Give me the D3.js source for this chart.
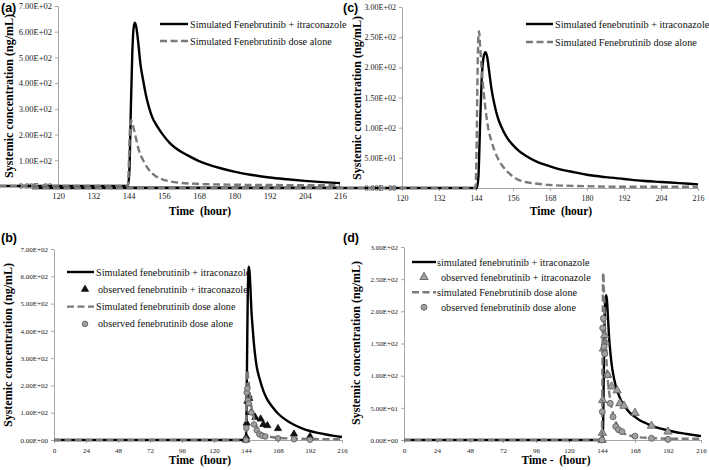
<!DOCTYPE html>
<html><head><meta charset="utf-8">
<script src="https://cdn.jsdelivr.net/npm/d3@7"></script>
<style>
html,body{margin:0;padding:0;background:#fff;}
svg{display:block;}
svg text{font-family:"Liberation Serif","DejaVu Serif","Times New Roman",serif;}
svg text.plabel{font-family:"Liberation Sans","DejaVu Sans",Arial,sans-serif;}
</style></head>
<body>
<svg id="chart" width="709" height="470"></svg>
<script>
// ---------------- DATA ----------------
const xTicksZoom = [120,132,144,156,168,180,192,204,216];
const xTicksFull = [0,24,48,72,96,120,144,168,192,216];
const yTicks700 = [0,100,200,300,400,500,600,700];
const yLabels700 = ["0.00E+00","1.00E+02","2.00E+02","3.00E+02","4.00E+02","5.00E+02","6.00E+02","7.00E+02"];
const yTicks300 = [0,50,100,150,200,250,300];
const yLabels300 = ["0.00E+00","5.00E+01","1.00E+02","1.50E+02","2.00E+02","2.50E+02","3.00E+02"];

// simulation used in panels (a) and (b)  [hour, ng/mL]
const simItraAB = [[0,0],[143.8,0],[144.3,60],[144.8,300],[145.3,520],[145.8,620],[146.2,635],[146.7,615],[147.3,560],[148,480],[149,410],[150,350],[151,305],[152,270],[154,228],[156,195],[158,168],[160,148],[164,120],[168,97],[172,80],[176,67],[180,56],[186,43],[192,33],[198,26],[204,20],[210,15],[216,11]];
const simAloneAB = [[0,0],[143.8,0],[144.1,80],[144.4,200],[144.8,255],[145.2,248],[145.8,222],[146.5,188],[147.5,140],[149,100],[150.5,70],[152,50],[154,33],[156,24],[158,18],[162,12],[168,8],[180,5],[192,4],[204,3],[216,3]];
// simulation used in panels (c) and (d)
const simItraCD = [[0,0],[144.3,0],[144.8,20],[145.3,100],[145.8,175],[146.4,215],[147,225],[147.6,218],[148.3,192],[149,165],[150,138],[151,118],[152,104],[154,84],[156,71],[158,61],[160,54],[164,43],[168,36],[172,30],[176,26],[180,22],[186,18],[192,15],[198,12],[204,10],[210,8],[216,6]];
const simAloneCD = [[0,0],[143.8,0],[144.2,70],[144.5,190],[144.8,255],[145,260],[145.3,238],[145.8,200],[146.5,158],[147.3,122],[148,98],[149,78],[150,62],[151,50],[152,41],[154,28],[156,19],[158,13],[160,10],[164,7],[168,5],[180,3],[192,2],[216,2]];
// observed data
const obsItra = [[144,0],[144.25,11],[144.5,62],[145,142],[146,163],[146.5,152],[148,101],[151,83],[155,77],[157,57],[160,53],[168,42],[180,22],[192,13]];
const obsAlone = [[144,0],[144.25,44],[144.5,174],[145,189],[145.5,145],[146,134],[148,101],[150,57],[152,36],[154,21],[156,16],[158.5,13],[168,6],[180,2.6],[192,1]];

// legend texts
const legendA = ["Simulated Fenebrutinib + itraconazole","Simulated Fenebrutinib dose alone"];
const legendC = ["Simulated fenebrutinib + itraconazole","Simulated Fenebrutinib dose alone"];
const legendB = ["Simulated fenebrutinib + itraconazole","observed fenebrutinib + itraconazole","Simulated fenebrutinib dose alone","observed fenebrutinib dose alone"];
const legendD = ["simulated fenebrutinib + itraconazole","observed fenebrutinib + itraconazole","simulated Fenebrutinib dose alone","observed fenebrutinib dose alone"];

// ---------------- DRAW ----------------
const svg = d3.select("#chart");
const AXIS_GRAY = "#a6a6a6";
const DASH_GRAY = "#7a7a7a";

function panel(cfg){
  const g = svg.append("g");
  const x = d3.scaleLinear().domain(cfg.xDomain).range(cfg.xRange);
  const y = d3.scaleLinear().domain(cfg.yDomain).range(cfg.yRange);

  const ay = g.append("g").attr("transform",`translate(${cfg.xRange[0]},0)`)
    .call(d3.axisLeft(y).tickValues(cfg.yTicks).tickFormat((d,i)=>cfg.yLabels[i]).tickSize(3).tickPadding(3).tickSizeOuter(0));
  const ax = g.append("g").attr("transform",`translate(0,${cfg.yRange[0]})`)
    .call(d3.axisBottom(x).tickValues(cfg.xTicks).tickFormat(d3.format("d")).tickSize(3).tickPadding(cfg.xPad).tickSizeOuter(0));
  [ax,ay].forEach(a=>{
    a.attr("font-family",null);
    a.selectAll("path,line").attr("stroke",AXIS_GRAY).attr("stroke-width",1);
    a.selectAll("text").attr("font-size",cfg.tickFont).attr("fill","#222");
  });

  const line = d3.line().x(d=>x(d[0])).y(d=>y(d[1])).curve(d3.curveMonotoneX);

  g.append("path").datum(cfg.solid).attr("d",line)
    .attr("fill","none").attr("stroke","#000").attr("stroke-width",2.4).attr("stroke-linejoin","round");

  const tri = d3.symbol().type(d3.symbolTriangle).size(cfg.triSize);
  if(cfg.obsItra){
    g.selectAll(".tri").data(cfg.obsItra).enter().append("path")
      .attr("d",tri).attr("transform",d=>`translate(${x(d[0])},${y(d[1])})`)
      .attr("fill",cfg.triFill).attr("stroke",cfg.triStroke).attr("stroke-width",0.8);
  }
  g.append("path").datum(cfg.dashed).attr("d",line)
    .attr("fill","none").attr("stroke",DASH_GRAY).attr("stroke-width",2.4).attr("stroke-dasharray","7,3.5");
  if(cfg.obsAlone){
    g.selectAll(".circ").data(cfg.obsAlone).enter().append("circle")
      .attr("cx",d=>x(d[0])).attr("cy",d=>y(d[1])).attr("r",cfg.circR)
      .attr("fill","#a0a0a0").attr("stroke","#555").attr("stroke-width",0.8);
  }

  g.append("text").attr("class","plabel").attr("x",cfg.label[1]).attr("y",cfg.label[2]).text(cfg.label[0])
    .attr("font-weight","bold").attr("font-size",12.5);

  g.append("text").attr("transform",`translate(${cfg.yTitle[0]},${cfg.yTitle[1]}) rotate(-90)`)
    .attr("text-anchor","middle").attr("font-weight","bold").attr("font-size",cfg.yTitle[2])
    .text("Systemic concentration (ng/mL)");
  g.append("text").attr("x",cfg.xTitle[1]).attr("y",cfg.xTitle[2]).attr("text-anchor","middle")
    .attr("font-weight","bold").attr("font-size",11.5)
    .style("white-space","pre").text(cfg.xTitle[0]);

  const L = cfg.legend;
  L.items.forEach((t,i)=>{
    const yy = L.y + i*L.dy;
    const kind = L.kinds[i];
    if(kind==="solid"){
      g.append("line").attr("x1",L.x0).attr("x2",L.x1).attr("y1",yy).attr("y2",yy)
        .attr("stroke","#000").attr("stroke-width",2.4);
    } else if(kind==="dashed"){
      g.append("line").attr("x1",L.x0).attr("x2",L.x1).attr("y1",yy).attr("y2",yy)
        .attr("stroke",DASH_GRAY).attr("stroke-width",2.4).attr("stroke-dasharray","7,3.5");
    } else if(kind==="tri"){
      g.append("path").attr("d",tri).attr("transform",`translate(${L.mx},${yy})`)
        .attr("fill",cfg.triFill).attr("stroke",cfg.triStroke).attr("stroke-width",0.8);
    } else {
      g.append("circle").attr("cx",L.mx).attr("cy",yy).attr("r",cfg.circR)
        .attr("fill","#a0a0a0").attr("stroke","#555").attr("stroke-width",0.8);
    }
    g.append("text").attr("x", kind==="solid"||kind==="dashed" ? L.tx : L.tx2).attr("y",yy).attr("dy","0.35em")
      .attr("font-size",10.2).attr("fill","#111").text(t);
  });
}

panel({xDomain:[120,216], xRange:[58,340], yDomain:[0,700], yRange:[186,6],
  xTicks:xTicksZoom, yTicks:yTicks700, yLabels:yLabels700, tickFont:8.5, xPad:4,
  solid:simItraAB, dashed:simAloneAB, label:["(a)",1,12],
  yTitle:[13,96,12], xTitle:["Time  (hour)",200,215],
  legend:{items:legendA, kinds:["solid","dashed"], x0:160, x1:188, mx:174, tx:190, tx2:190, y:24, dy:17}
});
panel({xDomain:[120,216], xRange:[402,698], yDomain:[0,300], yRange:[188,7],
  xTicks:xTicksZoom, yTicks:yTicks300, yLabels:yLabels300, tickFont:8, xPad:4,
  solid:simItraCD, dashed:simAloneCD, label:["(c)",343,12],
  yTitle:[361,98,12], xTitle:["Time  (hour)",561,215],
  legend:{items:legendC, kinds:["solid","dashed"], x0:526, x1:553, mx:540, tx:555, tx2:555, y:24, dy:18}
});
panel({xDomain:[0,216], xRange:[54,342], yDomain:[0,700], yRange:[440,249],
  xTicks:xTicksFull, yTicks:yTicks700, yLabels:yLabels700, tickFont:7, xPad:5,
  solid:simItraAB, dashed:simAloneAB, obsItra:obsItra, obsAlone:obsAlone,
  triFill:"#111", triStroke:"#111", triSize:22, circR:2.8, label:["(b)",1,242],
  yTitle:[12,345,12], xTitle:["Time  (hour)",200,464],
  legend:{items:legendB, kinds:["solid","tri","dashed","circ"], x0:67, x1:94, mx:85, tx:96, tx2:98, y:272, dy:17.3}
});
panel({xDomain:[0,216], xRange:[404,701], yDomain:[0,300], yRange:[440,247],
  xTicks:xTicksFull, yTicks:yTicks300, yLabels:yLabels300, tickFont:7, xPad:5,
  solid:simItraCD, dashed:simAloneCD, obsItra:obsItra, obsAlone:obsAlone,
  triFill:"#a0a0a0", triStroke:"#555", triSize:30, circR:3, label:["(d)",343,242],
  yTitle:[360,343,12], xTitle:["Time -  (hour)",556,464],
  legend:{items:legendD, kinds:["solid","tri","dashed","circ"], x0:412, x1:436, mx:424, tx:437, tx2:441, y:262, dy:15.1}
});
</script>
</body></html>
